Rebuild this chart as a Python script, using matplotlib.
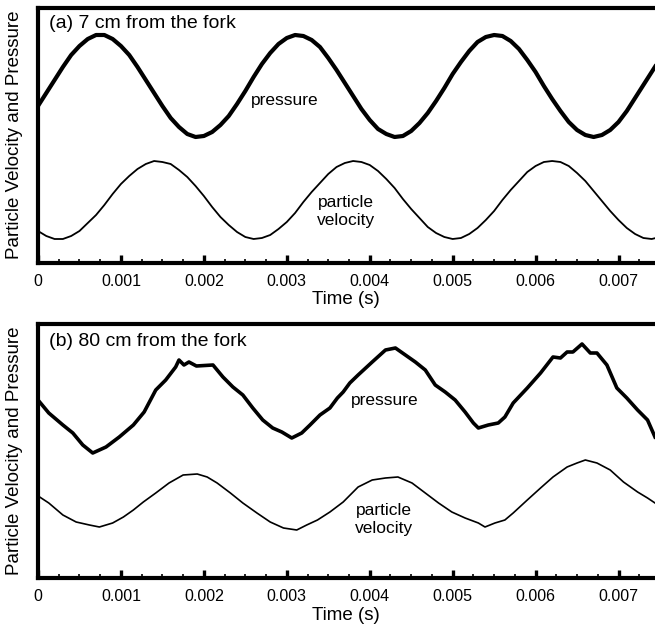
import numpy as np
import matplotlib
matplotlib.use("Agg")
import matplotlib.pyplot as plt
from matplotlib.ticker import MultipleLocator, FixedLocator

plt.rcParams['font.family'] = ['Liberation Sans', 'DejaVu Sans']

# ---------------- data (arbitrary units) ----------------
# panel (a): 7 cm from the fork, sampled every 0.1 ms
time_a = np.round(np.arange(0, 76) * 0.0001, 5)
pressure_a = [157, 170, 183, 196, 208, 217, 224, 228, 228, 224,
              217, 208, 196, 183, 170, 157, 145, 136, 129, 126,
              127, 131, 138, 147, 159, 172, 186, 199, 210, 219,
              225, 228, 227, 223, 216, 205, 193, 180, 167, 154,
              143, 134, 129, 126, 127, 132, 140, 150, 162, 175,
              189, 201, 212, 221, 226, 228, 227, 222, 214, 203,
              191, 177, 164, 152, 141, 133, 128, 126, 128, 133,
              141, 152, 165, 178, 191, 204]
velocity_a = [32, 27, 24, 24, 27, 32, 40, 48, 58, 69,
              79, 87, 94, 99, 102, 101, 99, 93, 86, 77,
              67, 56, 46, 38, 31, 26, 24, 25, 28, 34,
              41, 50, 61, 71, 80, 89, 96, 100, 102, 101,
              98, 92, 84, 75, 64, 54, 45, 36, 30, 26,
              24, 25, 29, 35, 43, 52, 63, 73, 82, 91,
              97, 101, 102, 101, 97, 90, 82, 72, 62, 52,
              43, 35, 29, 25, 24, 26]

# panel (b): 80 cm from the fork
time_pb = [0.0, 0.00002, 0.00013, 0.0003, 0.00042, 0.00054, 0.00066, 0.00082,
           0.00098, 0.00115, 0.00128, 0.00142, 0.00154, 0.00166, 0.0017, 0.00176,
           0.00182, 0.00191, 0.00211, 0.00223, 0.00235, 0.00247, 0.00259, 0.00271,
           0.00283, 0.00294, 0.00306, 0.00318, 0.00328, 0.0034, 0.00352, 0.00361,
           0.00368, 0.00376, 0.00386, 0.00403, 0.00419, 0.00431, 0.00443, 0.00455,
           0.00467, 0.00479, 0.00491, 0.00503, 0.00515, 0.00525, 0.00531, 0.00543,
           0.00555, 0.00563, 0.00573, 0.0059, 0.00606, 0.00621, 0.0063, 0.00638,
           0.00645, 0.00656, 0.00666, 0.00674, 0.00686, 0.00698, 0.0071, 0.00723,
           0.00735, 0.00744]
pressure_b = [178, 176, 165, 153, 145, 133, 125, 131,
              141, 153, 166, 188, 198, 211, 218, 213,
              216, 212, 213, 201, 191, 183, 170, 158,
              150, 146, 140, 145, 153, 163, 170, 180,
              186, 195, 203, 216, 228, 230, 223, 216,
              208, 193, 186, 178, 166, 155, 150, 153,
              155, 161, 175, 190, 205, 221, 220, 226,
              226, 234, 225, 225, 213, 190, 180, 168,
              158, 141]

time_vb = [0.0, 0.00002, 0.00013, 0.0003, 0.00046, 0.00062, 0.00074, 0.0009,
           0.00103, 0.00115, 0.00127, 0.00142, 0.00158, 0.00175, 0.00192, 0.00204,
           0.00216, 0.00232, 0.00247, 0.00264, 0.0028, 0.00296, 0.00312, 0.00324,
           0.00337, 0.00352, 0.00368, 0.00386, 0.00403, 0.00419, 0.00434, 0.00451,
           0.00467, 0.00483, 0.00499, 0.00515, 0.00531, 0.00539, 0.00551, 0.00563,
           0.00573, 0.0059, 0.00606, 0.00621, 0.00638, 0.0065, 0.0066, 0.00674,
           0.0069, 0.00706, 0.00723, 0.00735, 0.00744]
velocity_b = [83, 81, 75, 63, 56, 53, 51, 55,
              61, 68, 76, 85, 95, 103, 104, 101,
              95, 85, 75, 65, 56, 50, 48, 53,
              58, 66, 76, 91, 98, 100, 101, 95,
              85, 75, 66, 60, 55, 51, 55, 58,
              65, 78, 90, 101, 111, 115, 118, 115,
              108, 96, 86, 80, 75]

x_ticks = [0, 0.001, 0.002, 0.003, 0.004, 0.005, 0.006, 0.007]
x_tick_labels = ["0", "0.001", "0.002", "0.003", "0.004", "0.005", "0.006", "0.007"]
titles = ["(a) 7 cm from the fork", "(b) 80 cm from the fork"]

# ---------------- figure ----------------
W, H = 655, 627
fig = plt.figure(figsize=(W / 100, H / 100), dpi=100)

def fx(px):
    return px / W

def fy(py):
    return 1 - py / H

ax_a = fig.add_axes([fx(38), fy(263), 1 - fx(38), (263 - 8) / H])
ax_b = fig.add_axes([fx(38), fy(578), 1 - fx(38), (578 - 324) / H])

ax_a.plot(time_a, pressure_a, color='black', lw=3.0, solid_capstyle='round', solid_joinstyle='round')
ax_a.plot(time_a, velocity_a, color='black', lw=1.3, solid_joinstyle='round')
ax_a.set_ylim(0, 255)

ax_b.plot(time_pb, pressure_b, color='black', lw=2.6, solid_joinstyle='round')
ax_b.plot(time_vb, velocity_b, color='black', lw=1.2, solid_joinstyle='round')
ax_b.set_ylim(0, 254)

for ax in (ax_a, ax_b):
    ax.set_xlim(0, 0.00744)
    ax.spines['right'].set_visible(False)
    for s in ('left', 'top', 'bottom'):
        ax.spines[s].set_linewidth(3.0)
    ax.set_yticks([])
    ax.xaxis.set_major_locator(FixedLocator(x_ticks))
    ax.set_xticklabels(x_tick_labels)
    ax.xaxis.set_minor_locator(MultipleLocator(0.00025))
    ax.tick_params(axis='x', which='major', direction='in', length=6, width=2.4,
                   pad=8, labelsize=11.5)
    ax.tick_params(axis='x', which='minor', direction='in', length=3, width=1.2)
    ax.tick_params(axis='x', which='both', top=False)

# titles inside panels
fig.text(fx(49), fy(24), titles[0], fontsize=14, ha='left', va='center')
fig.text(fx(49), fy(341), titles[1], fontsize=14, ha='left', va='center')

# curve labels
fig.text(fx(285), fy(100), "pressure", fontsize=12.5, ha='center', va='center')
fig.text(fx(346), fy(211), "particle\nvelocity", fontsize=12.5, ha='center', va='center',
         linespacing=1.25)
fig.text(fx(385), fy(401), "pressure", fontsize=12.5, ha='center', va='center')
fig.text(fx(384), fy(519), "particle\nvelocity", fontsize=12.5, ha='center', va='center',
         linespacing=1.25)

# axis labels
fig.text(fx(346), fy(299), "Time (s)", fontsize=13.5, ha='center', va='center')
fig.text(fx(346), fy(615), "Time (s)", fontsize=13.5, ha='center', va='center')
fig.text(fx(15), fy(135), "Particle Velocity and Pressure", fontsize=13.5,
         rotation=90, ha='center', va='center')
fig.text(fx(15), fy(451), "Particle Velocity and Pressure", fontsize=13.5,
         rotation=90, ha='center', va='center')

fig.savefig("out.png", dpi=100)
